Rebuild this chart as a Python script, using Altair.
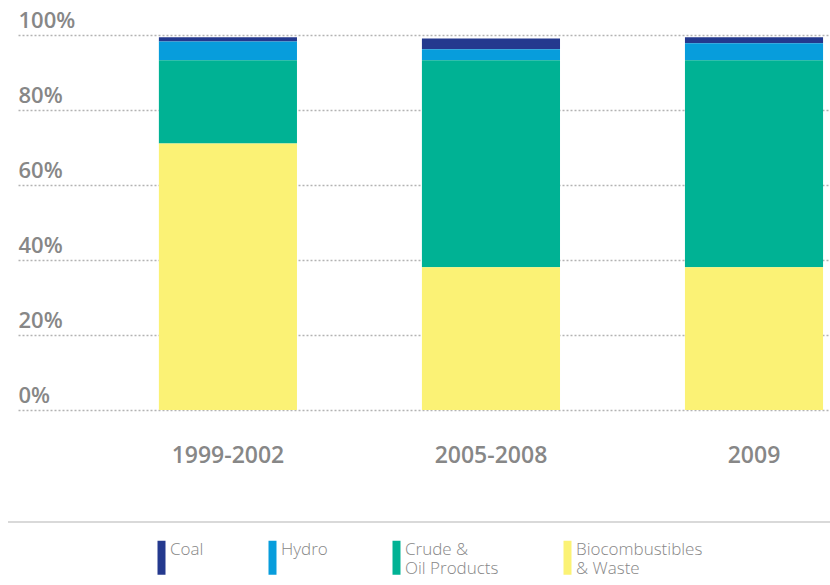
import altair as alt
import pandas as pd

# ---- data ----
periods = ["1999-2002", "2005-2008", "2009"]
sources = ["Coal", "Hydro", "Crude & Oil Products", "Biocombustibles & Waste"]
coal = [1.1, 2.9, 1.6]
hydro = [5.0, 2.9, 4.5]
crude = [22.2, 55.2, 55.2]
bio = [71.1, 38.1, 38.1]
colors = ["#24398e", "#079ddc", "#00b294", "#fbf275"]
y_ticks = [0, 20, 40, 60, 80, 100]

series = {
    "Coal": coal,
    "Hydro": hydro,
    "Crude & Oil Products": crude,
    "Biocombustibles & Waste": bio,
}
stack_rank = {"Biocombustibles & Waste": 0, "Crude & Oil Products": 1, "Hydro": 2, "Coal": 3}

rows = []
for s in sources:
    for p, v in zip(periods, series[s]):
        rows.append({"period": p, "source": s, "share": v, "rank": stack_rank[s]})
df = pd.DataFrame(rows)

GREY = "#878787"
FONT = "Open Sans"

legend_label_expr = (
    "datum.label == 'Crude & Oil Products' ? ['Crude &', ' Oil Products'] : "
    "datum.label == 'Biocombustibles & Waste' ? ['Biocombustibles', '& Waste'] : "
    "[datum.label, '']"
)

bars = alt.Chart(df).mark_bar().encode(
    x=alt.X(
        "period:N",
        sort=periods,
        scale=alt.Scale(paddingInner=0.475, paddingOuter=0.281, align=0.953),
        axis=alt.Axis(
            title=None, domain=False, ticks=False, labelAngle=0,
            labelFont=FONT, labelFontSize=23, labelFontWeight=600, labelColor=GREY,
            labelPadding=34, labelBaseline="top",
        ),
    ),
    y=alt.Y(
        "share:Q",
        stack="zero",
        scale=alt.Scale(domain=[0, 100], nice=False),
        axis=alt.Axis(
            values=y_ticks, title=None, domain=False, ticks=False, tickSize=0,
            labelAlign="left", labelPadding=0, labelBaseline="alphabetic", labelOffset=-8,
            labelExpr="datum.value + '%'",
            labelFont=FONT, labelFontSize=22, labelFontWeight=600, labelColor=GREY,
            grid=True, gridDash=[2, 2], gridColor="#b3b3b3", gridWidth=1.3,
        ),
    ),
    color=alt.Color(
        "source:N",
        scale=alt.Scale(domain=sources, range=colors),
        legend=alt.Legend(
            title=None, orient="none", legendX=135, legendY=506,
            direction="horizontal", columns=4, columnPadding=60,
            symbolType="M-1,-2.25H1V6.25H-1Z", symbolSize=64,
            symbolStrokeWidth=0, symbolOpacity=1,
            labelOffset=0, labelExpr=legend_label_expr,
            labelFont=FONT, labelFontSize=17, labelFontWeight=300, labelColor=GREY,
            labelBaseline="middle", labelLimit=300, padding=0,
        ),
    ),
    order=alt.Order("rank:Q", sort="ascending"),
)

separator = alt.Chart(pd.DataFrame({"k": [0]})).mark_rule(
    color="#d9d9d9", strokeWidth=2
).encode(x=alt.value(-10), x2=alt.value(812), y=alt.value(487))

chart = alt.layer(bars, separator).properties(
    width=812,
    height=375,
    padding={"left": 18, "top": 35, "right": 0, "bottom": 175},
    autosize=alt.AutoSizeParams(type="none"),
).configure_view(stroke=None)

chart.save("out.html", embed_options={"renderer": "svg", "actions": False})
